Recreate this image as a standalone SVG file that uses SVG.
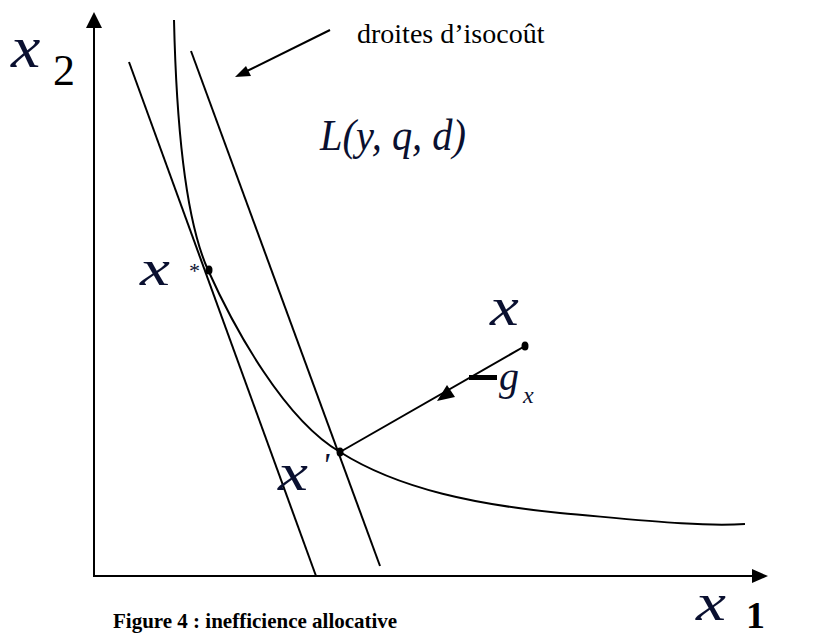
<svg xmlns="http://www.w3.org/2000/svg" width="813" height="635" viewBox="0 0 813 635">
<style>
.ln{stroke:#000;stroke-width:2;fill:none}
.m{font-family:"Liberation Serif","DejaVu Serif","Noto Serif",serif;font-style:italic;fill:#0a1030}
.t{font-family:"Liberation Serif","DejaVu Serif","Noto Serif",serif;fill:#000}
</style>
<rect width="813" height="635" fill="#fff"/>
<g id="connectors">
<line class="ln" x1="94" y1="577" x2="94" y2="26"/>
<path d="M94,12 L86,28 L102,28 z" fill="#000"/>
<line class="ln" x1="93" y1="576" x2="753" y2="576"/>
<path d="M768,576 L752,569 L752,583 z" fill="#000"/>
<path id="isoquant" class="ln" d="M174,20 C177,150 190,230 208,270 C235,330 285,420 340,452 C400,490 480,505 560,513 C640,520 700,527 745,524"/>
<line class="ln" x1="129" y1="62" x2="316" y2="576"/>
<line class="ln" x1="191" y1="51" x2="380" y2="566"/>
<line class="ln" x1="340" y1="452" x2="525" y2="346"/>
<path d="M437,401 L447,385 L455,397 z" fill="#000"/>
<line class="ln" x1="330" y1="30" x2="245" y2="72"/>
<path d="M235,77 L246,66 L251,76 z" fill="#000"/>
</g>
<g id="point-xstar">
<ellipse cx="209" cy="270" rx="3.5" ry="4.5" fill="#000"/>
<text class="m" transform="translate(140,285) scale(1.35,1)" font-size="50">x</text>
<text class="m" x="188" y="278" font-size="22">*</text>
</g>
<g id="point-xprime">
<ellipse cx="340" cy="452" rx="3.5" ry="4.5" fill="#000"/>
<text class="m" transform="translate(278,490) scale(1.3,1)" font-size="52">x</text>
<text class="m" x="322" y="476" font-size="34">'</text>
</g>
<g id="point-x">
<ellipse cx="525" cy="346" rx="3.5" ry="4.5" fill="#000"/>
<text class="m" transform="translate(490,325) scale(1.2,1)" font-size="54">x</text>
</g>
<g id="label-gx">
<rect x="469" y="375" width="28" height="5" fill="#000"/>
<text class="m" x="499" y="390" font-size="40">g</text>
<text class="m" x="523" y="403" font-size="24">x</text>
</g>
<g id="label-L">
<text class="m" x="320" y="150" font-size="44" textLength="146" lengthAdjust="spacingAndGlyphs">L(y, q, d)</text>
</g>
<g id="label-droites">
<text class="t" x="357" y="43" font-size="28">droites d’isocoût</text>
</g>
<g id="axis-x2">
<text class="m" transform="translate(11,67) scale(1.1,1)" font-size="60">x</text>
<text class="t" x="53" y="85" font-size="44" fill="#0a1030">2</text>
</g>
<g id="axis-x1">
<text class="m" transform="translate(696,620) scale(1.3,1)" font-size="52">x</text>
<text class="t" x="746" y="628" font-size="38" font-weight="bold" fill="#3a0060">1</text>
</g>
<g id="caption">
<text class="t" x="113" y="628" font-size="21" font-weight="bold">Figure 4 : inefficience allocative</text>
</g>
</svg>
